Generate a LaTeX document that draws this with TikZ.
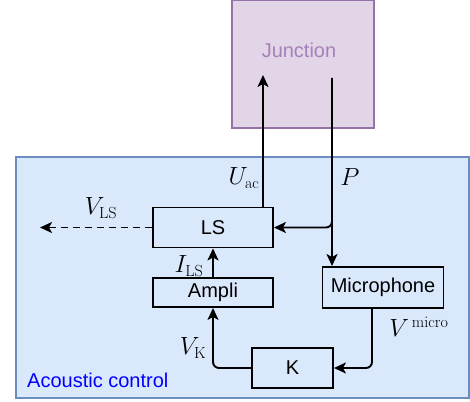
\documentclass[tikz,border=0pt]{standalone}
\usepackage{fontspec}
\newfontfamily\hv{Liberation Sans}
\usetikzlibrary{arrows.meta}
\definecolor{bluefill}{HTML}{DAE8FC}
\definecolor{bluedraw}{HTML}{6C8EBF}
\definecolor{purplefill}{HTML}{E1D5E7}
\definecolor{purpledraw}{HTML}{9673A6}
\definecolor{purpletext}{HTML}{A680B8}
\begin{document}
\begin{tikzpicture}[x=1pt,y=-1pt,
  blk/.style={draw=black,line width=1.9pt,inner sep=0pt,font=\hv\fontsize{20}{22}\selectfont},
  conn/.style={line width=1.9pt,rounded corners=6pt,-{Stealth[length=12pt,width=11pt,inset=3pt]}},
  lbl/.style={inner sep=0pt,font=\fontsize{23}{26}\selectfont}]
\useasboundingbox (0,0) rectangle (470,401);
\node[draw=bluedraw,fill=bluefill,line width=1.4pt,minimum width=453pt,minimum height=241pt,inner sep=0pt] (ac) at (242.5,277.5) {};
\node[draw=purpledraw,fill=purplefill,line width=1.4pt,minimum width=142pt,minimum height=128pt,inner sep=0pt] (junc) at (303,64) {};
\node[inner sep=0pt,text=purpletext,font=\hv\fontsize{20}{22}\selectfont] (jtext) at (299,50) {Junction};
\node[inner sep=0pt,text=blue,font=\hv\fontsize{20}{22}\selectfont,anchor=west] (actext) at (27,380) {Acoustic control};
\node[blk,minimum width=120pt,minimum height=40pt] (ls) at (213,227.5) {LS};
\node[blk,minimum width=120pt,minimum height=29pt] (ampli) at (213,292.5) {Ampli};
\node[blk,minimum width=121pt,minimum height=41pt] (mic) at (383,287.5) {Microphone};
\node[blk,minimum width=81pt,minimum height=40pt] (k) at (292.5,368) {K};
\coordinate (jin) at (263,75);
\coordinate (jout) at (332,78);
\coordinate (vls) at (40,227.5);
\draw[conn] (ls.north -| jin) -- (jin);
\draw[conn] (jout) -- (jout |- ls.east) -- (ls.east);
\draw[conn] (jout) -- (jout |- mic.north);
\draw[conn,dashed,dash pattern=on 7pt off 5pt] (ls.west) -- (vls);
\draw[conn] (ampli.north) -- (ls.south);
\draw[conn] (mic.south -| 372,0) -- (372,0 |- k.east) -- (k.east);
\draw[conn] (k.west) -- (k.west -| ampli.south) -- (ampli.south);
\node[lbl] (uac) at (244,178) {$U_{\mathrm{ac}}$};
\node[lbl] (p) at (350,177) {$P$};
\node[lbl] (vlsl) at (101,208) {$V_{\mathrm{LS}}$};
\node[lbl] (ils) at (189,266) {$I_{\mathrm{LS}}$};
\node[lbl] (vmic) at (419,327) {$V^{\,\mathrm{micro}}$};
\node[lbl] (vk) at (193,348) {$V_{\mathrm{K}}$};
\end{tikzpicture}
\end{document}
